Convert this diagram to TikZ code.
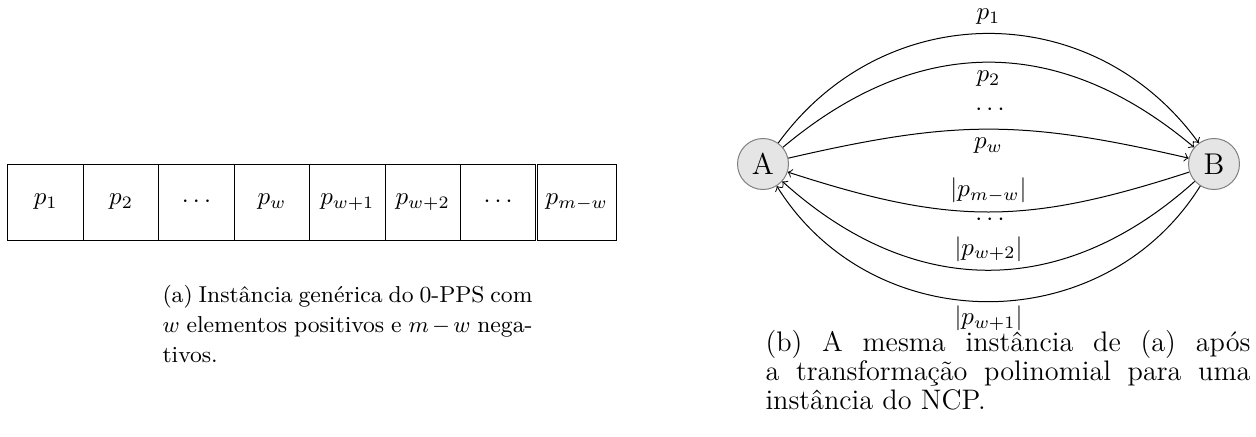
\documentclass[tikz,border=0pt]{standalone}
\usepackage{fontspec}
\usetikzlibrary{positioning}
\begin{document}
\begin{tikzpicture}[x=0.4pt, y=0.4pt,
 cell/.style={draw,minimum width=30.16pt,minimum height=30.4pt,inner sep=0pt,outer sep=0pt},
 vertex/.style={circle,draw=gray,fill=gray!20,minimum size=20.4pt,inner sep=0pt,font=\large},
 capt/.style={align=justify,inner sep=0pt,anchor=north west},
 every to/.style={looseness=1.1}]
\useasboundingbox (0,0) rectangle (1256,436);
% (a) the array of elements
\node[cell] (c1) at (45.7,234) {$p_1$};
\node[cell] (c2) at (121.1,234) {$p_2$};
\node[cell] (c3) at (196.5,234) {$\cdots$};
\node[cell] (c4) at (271.9,234) {$p_w$};
\node[cell] (c5) at (347.3,234) {$p_{w+1}$};
\node[cell] (c6) at (422.7,234) {$p_{w+2}$};
\node[cell] (c7) at (498.1,234) {$\cdots$};
\node[cell,minimum width=31.4pt] (c8) at (576.8,234) {$p_{m-w}$};
\node[capt,text width=148pt,font=\fontsize{9.2}{12}\selectfont] (capA) at (162,151)
 {(a) Instância genérica do 0-PPS com\linebreak $w$ elementos positivos e $m-w$ nega-\linebreak tivos.};
% (b) the NCP instance
\node[vertex] (A) at (763,272) {A};
\node[vertex] (B) at (1214,272) {B};
\draw[->] (A) to[bend left=54] node[above] {$p_1$} (B);
\draw[->] (A) to[bend left=40] node[below] {$p_2$} (B);
\draw[->] (A) to[bend left=13] node[below] {$p_w$} (B);
\draw[->] (B) to[bend left=18] node[above] {$|p_{m-w}|$} (A);
\draw[->] (B) to[bend left=42] node[above] {$|p_{w+2}|$} (A);
\draw[->] (B) to[bend left=58] node[below,inner sep=1.5pt] {$|p_{w+1}|$} (A);
\node (dotsT) at (990,326) {$\cdots$};
\node (dotsB) at (990,216) {$\cdots$};
\node[capt,text width=194pt,font=\fontsize{11.3}{11.7}\selectfont] (capB) at (765,106.5)
 {(b) A mesma instância de (a) após\linebreak a transformação polinomial para uma\linebreak instância do NCP.};
\end{tikzpicture}
\end{document}
